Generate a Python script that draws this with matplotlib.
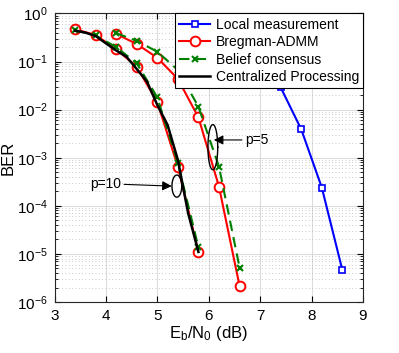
import numpy as np
import matplotlib.pyplot as plt
from matplotlib.ticker import FixedLocator, NullFormatter, LogFormatterMathtext

plt.rcParams['font.family'] = ['Liberation Sans', 'DejaVu Sans']
plt.rcParams['mathtext.fontset'] = 'custom'
plt.rcParams['mathtext.rm'] = 'Liberation Sans'
plt.rcParams['mathtext.it'] = 'Liberation Sans'

# Local measurement (first points sit behind the legend)
snr_local = [6.2, 6.6, 7.0, 7.4, 7.8, 8.2, 8.6]
ber_local = [0.38, 0.22, 0.1, 0.029, 3.9e-3, 2.4e-4, 4.6e-6]

# Bregman-ADMM, p=10 and p=5
snr_admm10 = [3.4, 3.8, 4.2, 4.6, 5.0, 5.4, 5.8]
ber_admm10 = [0.47, 0.357, 0.18, 0.078, 0.0143, 6.5e-4, 1.1e-5]
snr_admm5 = [4.2, 4.6, 5.0, 5.4, 5.8, 6.2, 6.6]
ber_admm5 = [0.375, 0.232, 0.12, 0.0436, 6.9e-3, 2.5e-4, 2.16e-6]

# Belief consensus, p=10 and p=5
snr_bc10 = [3.4, 3.8, 4.2, 4.6, 5.0, 5.4, 5.8]
ber_bc10 = [0.45, 0.35, 0.2, 0.092, 0.018, 7.7e-4, 1.38e-5]
snr_bc5 = [4.2, 4.6, 5.0, 5.4, 5.8, 6.2, 6.6]
ber_bc5 = [0.39, 0.27, 0.16, 0.067, 0.0115, 6.5e-4, 5.2e-6]

# Centralized processing
snr_cent = [3.4, 3.6, 3.8, 4.0, 4.2, 4.4, 4.6, 4.8, 5.0, 5.2, 5.4, 5.6, 5.8]
ber_cent = [0.44, 0.40, 0.34, 0.24, 0.17, 0.126, 0.07, 0.038, 0.0125, 4.8e-3, 9e-4, 7e-5, 1.1e-5]

fig = plt.figure(figsize=(3.99, 3.53), dpi=100)
ax = fig.add_axes([0.1366, 0.1445, 0.773, 0.8173])

lw = 1.5
ax.semilogy(snr_local, ber_local, '-s', color='blue', lw=lw, ms=5, mfc='white', mew=1.2, label='Local measurement')
ax.semilogy(snr_admm10, ber_admm10, '-o', color='red', lw=lw, ms=7, mfc='white', mew=1.4, label='Bregman-ADMM')
ax.semilogy(snr_bc10, ber_bc10, '--x', color='#007f00', lw=lw, ms=5, mew=1.5, dashes=(5, 3), label='Belief consensus')
ax.semilogy(snr_admm5, ber_admm5, '-o', color='red', lw=lw, ms=7, mfc='white', mew=1.4)
ax.semilogy(snr_bc5, ber_bc5, '--x', color='#007f00', lw=lw, ms=5, mew=1.5, dashes=(5, 3))
ax.semilogy(snr_cent, ber_cent, '-', color='black', lw=1.8, label='Centralized Processing')

# ellipses marking the curve groups
t = np.linspace(0, 2 * np.pi, 100)
ax.plot(5.38 + 0.095 * np.cos(t), 10 ** (-3.59 + 0.23 * np.sin(t)), color='black', lw=1)
ax.plot(6.08 + 0.095 * np.cos(t), 10 ** (-2.78 + 0.47 * np.sin(t)), color='black', lw=1)

arrow = dict(arrowstyle='-|>', color='black', lw=0.8, mutation_scale=14, shrinkA=0, shrinkB=0)
ax.annotate('p=10', xy=(5.28, 10 ** -3.59), xytext=(4.3, 10 ** -3.54), ha='right', va='center',
            fontsize=10, arrowprops=arrow)
ax.annotate('p=5', xy=(6.1, 10 ** -2.63), xytext=(6.7, 10 ** -2.63), ha='left', va='center',
            fontsize=10, arrowprops=arrow)

ax.set_xlim(3, 9)
ax.set_ylim(1e-6, 1)
ax.set_xticks([3, 4, 5, 6, 7, 8, 9])
decades = 10.0 ** np.arange(-6, 1)
ax.yaxis.set_major_locator(FixedLocator(decades))
ax.yaxis.set_major_formatter(LogFormatterMathtext())
minors = [d * k for d in decades[:-1] for k in range(2, 10)]
ax.yaxis.set_minor_locator(FixedLocator(minors))
ax.yaxis.set_minor_formatter(NullFormatter())
ax.tick_params(which='both', direction='in', top=True, right=True, labelsize=11)
ax.tick_params(which='major', length=4, pad=5)
ax.tick_params(which='minor', length=2)
ax.grid(True, which='major', color='#dcdcdc', lw=0.8)
ax.grid(True, which='minor', axis='y', color='#bbbbbb', lw=0.6, ls=(0, (1, 3)))
ax.set_axisbelow(True)
for s in ax.spines.values():
    s.set_linewidth(0.8)
    s.set_color('#262626')

ax.set_xlabel('E$_\\mathrm{b}$/N$_\\mathrm{0}$ (dB)', fontsize=12, labelpad=1)
ax.set_ylabel('BER', fontsize=12, labelpad=1)

leg = ax.legend(loc='upper right', fontsize=10, fancybox=False, framealpha=1, edgecolor='black',
                borderaxespad=0, handlelength=2.2, handletextpad=0.4, borderpad=0.3, labelspacing=0.25)
leg.get_frame().set_linewidth(0.8)

plt.savefig('out.png', dpi=100)
